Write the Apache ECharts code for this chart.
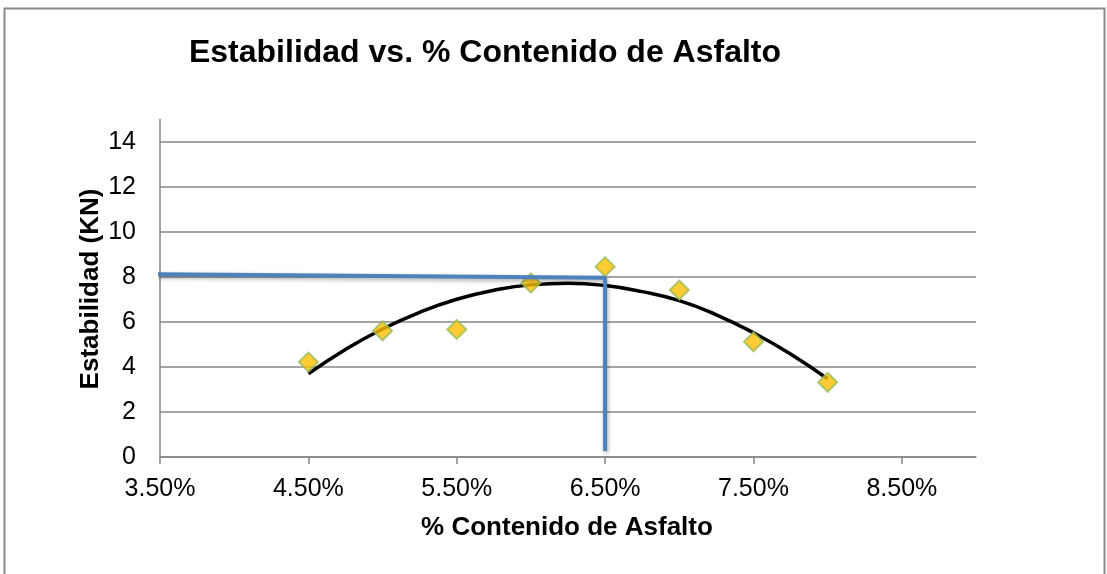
<!DOCTYPE html>
<html>
<head>
<meta charset="utf-8">
<script src="https://cdn.jsdelivr.net/npm/echarts@6/dist/echarts.min.js"></script>
<style>
html,body{margin:0;padding:0;background:#fff;}
#chart{width:1107px;height:574px;}
</style>
</head>
<body>
<div id="chart"></div>
<script>
// Data
const contenido = [0.045, 0.050, 0.055, 0.060, 0.065, 0.070, 0.075, 0.080];
const estabilidad = [4.22, 5.61, 5.67, 7.73, 8.46, 7.42, 5.12, 3.32];
// Polynomial trendline
const trendX = [0.045, 0.0475, 0.050, 0.0525, 0.055, 0.0575, 0.060, 0.0625, 0.065, 0.0675, 0.070, 0.0725, 0.075, 0.0775, 0.080];
const trendY = [3.70, 4.78, 5.69, 6.43, 7.01, 7.41, 7.65, 7.72, 7.62, 7.35, 6.95, 6.32, 5.52, 4.58, 3.47];
// Blue guide lines drawn over the chart
const guideX = [0.0343, 0.065, 0.065];
const guideY = [8.13, 7.97, 0.27];
const xTicks = [0.035, 0.045, 0.055, 0.065, 0.075, 0.085];
const title = 'Estabilidad vs. % Contenido de Asfalto';
const xTitle = '% Contenido de Asfalto';
const yTitle = 'Estabilidad (KN)';

const FONT = "'Liberation Sans', Arial, sans-serif";
const chart = echarts.init(document.getElementById('chart'), null, {renderer: 'canvas'});
chart.setOption({
  animation: false,
  backgroundColor: '#ffffff',
  grid: {left: 160, right: 131, top: 119.5, bottom: 117, containLabel: false},
  xAxis: {
    type: 'value', min: 0.035, max: 0.09,
    axisLine: {show: true, lineStyle: {color: '#878787', width: 1.5}},
    axisTick: {show: true, length: 7, customValues: xTicks, lineStyle: {color: '#878787', width: 1.5}},
    axisLabel: {customValues: xTicks, formatter: v => (v * 100).toFixed(2) + '%', fontFamily: FONT, fontSize: 25, color: '#000', margin: 20},
    splitLine: {show: false}
  },
  yAxis: {
    type: 'value', min: 0, max: 15, interval: 2,
    axisLine: {show: true, lineStyle: {color: '#878787', width: 1.5}},
    axisTick: {show: false},
    axisLabel: {fontFamily: FONT, fontSize: 25, color: '#000', margin: 24, showMaxLabel: false},
    splitLine: {show: true, showMaxLine: false, lineStyle: {color: '#878787', width: 1.5}}
  },
  series: [
    {
      type: 'line', data: trendX.map((x, i) => [x, trendY[i]]), smooth: true,
      symbol: 'none', lineStyle: {color: '#000', width: 3.5}, z: 3
    },
    {
      type: 'scatter', data: contenido.map((x, i) => [x, estabilidad[i]]),
      symbol: 'diamond', symbolSize: 19,
      itemStyle: {color: '#FFC000', borderColor: '#9BBB59', borderWidth: 2}, z: 4
    },
    {
      type: 'line', data: guideX.map((x, i) => [x, guideY[i]]), clip: false,
      symbol: 'none', lineStyle: {color: '#4F81BD', width: 4, shadowColor: 'rgba(0,0,0,0.35)', shadowBlur: 4, shadowOffsetX: 1, shadowOffsetY: 2}, z: 5
    }
  ],
  graphic: [
    {type: 'rect', shape: {x: 4.5, y: 8.5, width: 1100, height: 620}, style: {fill: 'none', stroke: '#8a8a8a', lineWidth: 2}, silent: true},
    {type: 'text', x: 485, y: 53, style: {text: title, font: "bold 32px " + FONT, fill: '#000', textAlign: 'center', textVerticalAlign: 'middle'}},
    {type: 'text', x: 567, y: 528, style: {text: xTitle, font: "bold 26px " + FONT, fill: '#000', textAlign: 'center', textVerticalAlign: 'middle'}},
    {type: 'text', x: 91, y: 289, rotation: Math.PI / 2, style: {text: yTitle, font: "bold 26px " + FONT, fill: '#000', textAlign: 'center', textVerticalAlign: 'middle'}}
  ]
});
</script>
</body>
</html>
